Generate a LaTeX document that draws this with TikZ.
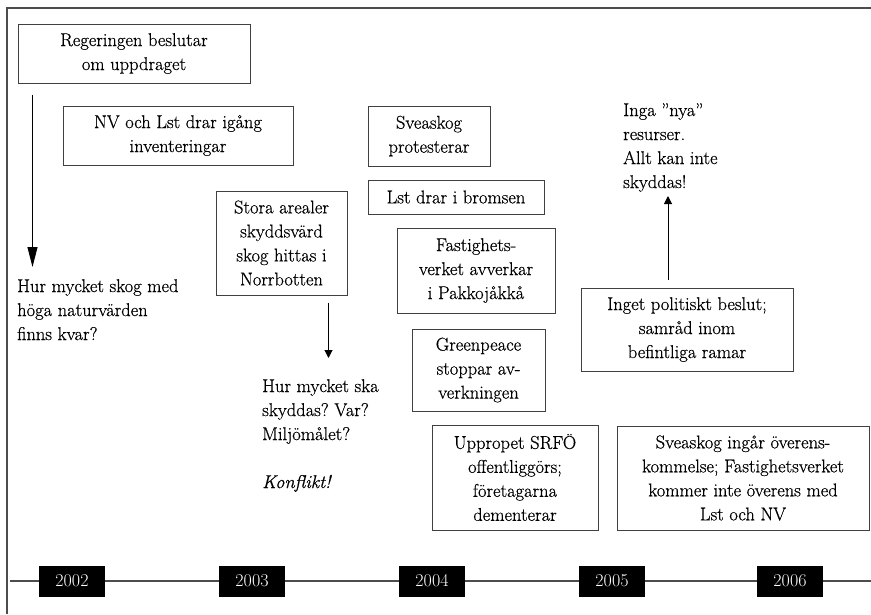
\documentclass[tikz,border=0pt]{standalone}
\usepackage{fontspec}
\setmainfont{Latin Modern Roman}[FakeBold=0.6]
\newfontfamily\yearfont{Latin Modern Roman}
\frenchspacing
\usetikzlibrary{arrows.meta,calc}
\begin{document}
\begin{tikzpicture}[x=1pt,y=-1pt,
  txt/.style={font=\fontsize{18.5}{24}\selectfont},
  box/.style={txt, draw=black!75, line width=1pt, align=center, inner sep=0pt},
  free/.style={txt, align=left, inner sep=0pt, anchor=north west},
  year/.style={fill=black, text=white, font=\yearfont\fontsize{18}{20}\selectfont, minimum width=66pt, minimum height=31pt, inner sep=0pt},
  frame/.style={draw=black!70, line width=1.2pt},
  bigarr/.style={line width=1pt, -{Triangle[length=20pt,width=10pt]}},
  smallarr/.style={line width=1pt, -{Triangle[length=8pt,width=8pt]}}
]
\useasboundingbox (0,0) rectangle (871,614);
% frame
\coordinate (fbl) at (7,614);
\coordinate (ftl) at (7,8);
\coordinate (ftr) at (871,8);
\draw[frame] (fbl) -- (ftl) -- (ftr);

% boxes
\node[box, minimum width=232pt, minimum height=59pt] (reg) at (134,53.5) {Regeringen beslutar\\om uppdraget};
\node[box, minimum width=230pt, minimum height=59pt] (nv) at (178,135.5) {NV och Lst drar igång\\inventeringar};
\node[box, minimum width=131pt, minimum height=104pt] (stora) at (281.5,243) {Stora arealer\\skyddsvärd\\skog hittas i\\Norrbotten};
\node[box, minimum width=122pt, minimum height=60pt] (svea) at (429,136) {Sveaskog\\protesterar};
\node[box, minimum width=176pt, minimum height=34pt] (lst) at (456,197) {Lst drar i bromsen};
\node[box, minimum width=158pt, minimum height=85pt] (fast) at (476,270.5) {Fastighets-\\verket avverkar\\i Pakkojåkkå};
\node[box, minimum width=133pt, minimum height=82pt] (green) at (478.5,370) {Greenpeace\\stoppar av-\\verkningen};
\node[box, minimum width=166pt, minimum height=105pt] (upp) at (515,477.5) {Uppropet SRFÖ\\offentliggörs;\\företagarna\\dementerar};
\node[box, minimum width=212pt, minimum height=83pt] (inget) at (687,329.5) {Inget politiskt beslut;\\samråd inom\\befintliga ramar};
\node[box, minimum width=252pt, minimum height=104pt] (overens) at (743,478) {Sveaskog ingår överens-\\kommelse; Fastighetsverket\\kommer inte överens med\\Lst och NV};

% free texts
\node[free] (q1) at (17,279) {Hur mycket skog med\\höga naturvärden\\finns kvar?};
\node[free] (q2) at (262,379) {Hur mycket ska\\skyddas? Var?\\Miljömålet?\\[24pt]\textit{Konflikt!}};
\node[free] (q3) at (623,103) {Inga ”nya”\\resurser.\\Allt kan inte\\skyddas!};

% arrows
\coordinate (a1s) at ([xshift=15pt,yshift=-11pt]reg.south west);
\draw[bigarr] (a1s) -- ($(a1s |- q1.north)+(0,-12)$);
\coordinate (a2s) at ([xshift=-19pt,yshift=-7pt]stora.south east);
\draw[smallarr] (a2s) -- ($(a2s |- q2.north)+(0,-21)$);
\coordinate (a3s) at ([xshift=-19pt,yshift=8pt]inget.north);
\draw[smallarr] (a3s) -- ($(a3s |- q3.south)+(0,4)$);

% timeline
\coordinate (tl0) at (10,581);
\coordinate (tl1) at (871,581);
\draw[frame] (tl0) -- (tl1);
\node[year] (y2002) at (72,581) {2002};
\node[year] (y2003) at (252,581) {2003};
\node[year] (y2004) at (432,581) {2004};
\node[year] (y2005) at (612,581) {2005};
\node[year] (y2006) at (790,581) {2006};
\end{tikzpicture}
\end{document}
